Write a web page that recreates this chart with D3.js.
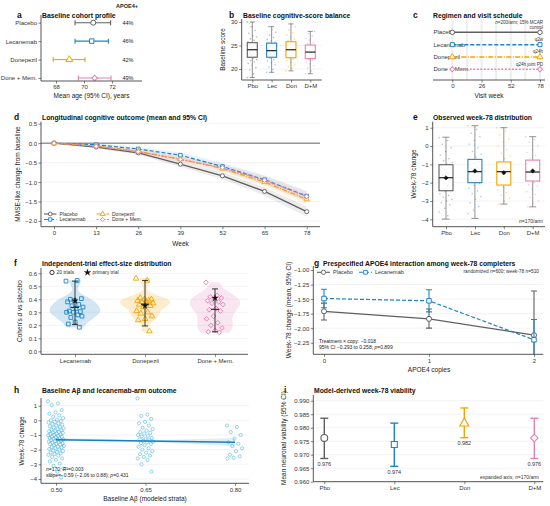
<!DOCTYPE html>
<html>
<head>
<meta charset="utf-8">
<script src="https://cdn.jsdelivr.net/npm/d3@7"></script>
<style>
body { margin: 0; background: #fff; }
svg { font-family: "Liberation Sans", Arial, sans-serif; }
</style>
</head>
<body>
<svg id="fig" width="550" height="506"></svg>
<script>
// ---- shared ----
let arms = ["Placebo", "Lecanemab", "Donepezil", "Done + Mem."]
let armShort = ["Pbo", "Lec", "Don", "D+M"]
let armColor = ["#5f5f5f", "#1f84c6", "#f5a300", "#e681b4"]
let armShape = ["circle", "square", "triangle", "diamond"]
let armDash = ["none", "4,2", "5,1.5,1,1.5", "2,1.5"]

// a: baseline cohort
let ageMean = [70.66, 70.55, 68.95, 70.76]
let ageLo = [69.36, 69.36, 67.8, 69.6]
let ageHi = [71.9, 71.74, 70.07, 71.93]
let apoePct = ["44%", "46%", "42%", "49%"]
let ageTicks = [68, 70, 72]

// b: baseline score boxes (whisker lo, q1, median, q3, whisker hi)
let scoreBox = [
    [18.2, 22.5, 24.1, 25.6, 30.0],
    [19.3, 22.5, 23.9, 25.5, 29.0],
    [19.6, 22.4, 24.1, 25.8, 29.6],
    [19.0, 22.2, 23.6, 25.1, 28.0]
]
let scorePts = [
    [18.2, 19.0, 19.8, 20.3, 20.8, 21.2, 21.5, 21.8, 22.0, 22.3, 22.5, 22.7, 23.0, 23.2, 23.4, 23.6, 23.8, 24.0, 24.1, 24.3, 24.5, 24.7, 24.9, 25.1, 25.3, 25.6, 25.8, 26.1, 26.4, 26.8, 27.1, 27.6, 28.2, 29.0, 30.0],
    [19.3, 19.9, 20.4, 20.9, 21.3, 21.7, 22.0, 22.3, 22.5, 22.7, 22.9, 23.1, 23.3, 23.5, 23.7, 23.9, 24.0, 24.2, 24.4, 24.6, 24.8, 25.0, 25.2, 25.5, 25.7, 26.0, 26.3, 26.7, 27.2, 27.8, 28.4, 29.0],
    [19.6, 20.1, 20.6, 21.0, 21.4, 21.8, 22.1, 22.4, 22.6, 22.9, 23.1, 23.4, 23.6, 23.8, 24.0, 24.1, 24.3, 24.5, 24.7, 25.0, 25.2, 25.5, 25.8, 26.1, 26.4, 26.8, 27.2, 27.7, 28.3, 29.0, 29.6],
    [19.0, 19.6, 20.2, 20.7, 21.1, 21.5, 21.8, 22.0, 22.2, 22.4, 22.7, 22.9, 23.1, 23.3, 23.5, 23.6, 23.8, 24.0, 24.2, 24.4, 24.6, 24.9, 25.1, 25.4, 25.7, 26.1, 26.5, 27.0, 27.5, 28.0]
]
let scoreTicks = [20, 25, 30]

// c: regimen schedule
let visitWeeks = [0, 13, 26, 39, 52, 65, 78]
let scheduleTicks = [0, 26, 52, 78]
let regimenNote = ["control", "q2w", "q24h", "q24h joint PD"]

// d: longitudinal means and CI half-widths
let weeks = [0, 13, 26, 39, 52, 65, 78]
let meanChange = [
    [0, -0.10, -0.25, -0.54, -0.84, -1.24, -1.76],
    [0, -0.04, -0.15, -0.31, -0.60, -0.94, -1.36],
    [0, -0.07, -0.21, -0.41, -0.65, -1.00, -1.44],
    [0, -0.08, -0.22, -0.42, -0.63, -0.95, -1.37]
]
let ciHalf = [0, 0.03, 0.05, 0.07, 0.09, 0.11, 0.13]
let changeTicks = [0.5, 0, -0.5, -1, -1.5, -2]

// e: week-78 distribution
let w78Box = [
    [-3.99, -2.44, -1.73, -1.02, 0.48],
    [-3.95, -2.00, -1.40, -0.73, 1.11],
    [-3.17, -2.13, -1.40, -0.87, 1.00],
    [-3.32, -1.91, -1.42, -0.77, 0.51]
]
let w78Mean = [-1.74, -1.36, -1.46, -1.36]
let w78Pts = [
    [0.45, 0.3, 0.1, -0.1, -0.3, -0.5, -0.7, -0.8, -0.9, -1.0, -1.1, -1.2, -1.3, -1.4, -1.5, -1.6, -1.7, -1.75, -1.8, -1.9, -2.0, -2.1, -2.2, -2.3, -2.4, -2.5, -2.6, -2.7, -2.8, -2.9, -3.0, -3.1, -3.2, -3.4, -3.6, -3.8, -4.0],
    [1.1, 0.9, 0.7, 0.5, 0.3, 0.1, -0.1, -0.3, -0.45, -0.6, -0.75, -0.85, -0.95, -1.05, -1.15, -1.25, -1.35, -1.4, -1.45, -1.55, -1.65, -1.75, -1.85, -1.95, -2.05, -2.15, -2.3, -2.45, -2.6, -2.75, -2.9, -3.1, -3.3, -3.5, -3.7, -3.95],
    [1.0, 0.8, 0.6, 0.4, 0.2, 0.0, -0.2, -0.4, -0.55, -0.7, -0.85, -0.95, -1.05, -1.15, -1.25, -1.35, -1.4, -1.45, -1.55, -1.65, -1.75, -1.85, -1.95, -2.05, -2.15, -2.25, -2.4, -2.55, -2.7, -2.85, -3.0, -3.17],
    [0.5, 0.35, 0.2, 0.0, -0.2, -0.35, -0.5, -0.65, -0.75, -0.85, -0.95, -1.05, -1.15, -1.25, -1.35, -1.4, -1.45, -1.55, -1.65, -1.75, -1.85, -1.92, -2.0, -2.1, -2.2, -2.35, -2.5, -2.65, -2.8, -3.0, -3.15, -3.32]
]
let w78Ticks = [1, 0, -1, -2, -3, -4]

// f: trial effect sizes
let trialArms = ["Lecanemab", "Donepezil", "Done + Mem."]
let trialD = [
    [0.54, 0.545, 0.40, 0.405, 0.39, 0.38, 0.36, 0.35, 0.34, 0.33, 0.31, 0.305, 0.30, 0.30, 0.28, 0.26, 0.27, 0.225, 0.21, 0.185],
    [0.56, 0.545, 0.41, 0.40, 0.40, 0.39, 0.39, 0.38, 0.37, 0.38, 0.36, 0.35, 0.34, 0.31, 0.30, 0.29, 0.27, 0.25, 0.24, 0.155],
    [0.53, 0.43, 0.42, 0.41, 0.40, 0.39, 0.38, 0.37, 0.36, 0.33, 0.32, 0.31, 0.27, 0.25, 0.22, 0.20, 0.18, 0.16, 0.15, 0.145]
]
let trialMid = [0.338, 0.362, 0.323]
let trialLo = [0.205, 0.195, 0.15]
let trialHi = [0.54, 0.545, 0.48]
let primaryD = [0.389, 0.35, 0.41]
let dTicks = [0, 0.1, 0.2, 0.3, 0.4, 0.5, 0.6]

// g: APOE4 interaction
let copies = [0, 1, 2]
let apoeMean = [[-1.71, -1.84, -2.12], [-1.49, -1.53, -2.20]]
let apoeLo = [[-1.86, -2.00, -2.90], [-1.65, -1.72, -2.60]]
let apoeHi = [[-1.57, -1.67, -1.36], [-1.33, -1.34, -1.85]]
let apoeTicks = [-1, -1.25, -1.5, -1.75, -2, -2.25]

// h: baseline amyloid strata
let strata = [0.50, 0.65, 0.80]
let strataPts = [
    [1.3, 1.15, 1.05, 0.7, 0.55, 0.45, 0.35, 0.25, 0.15, 0.05, 0.0, -0.05, -0.1, -0.15, -0.2, -0.25, -0.3, -0.35, -0.4, -0.45, -0.5, -0.55, -0.6, -0.62, -0.68, -0.72, -0.75, -0.8, -0.82, -0.85, -0.9, -0.92, -0.95, -1.0, -1.02, -1.05, -1.1, -1.12, -1.15, -1.2, -1.22, -1.25, -1.3, -1.32, -1.35, -1.4, -1.42, -1.45, -1.5, -1.52, -1.55, -1.6, -1.62, -1.65, -1.7, -1.75, -1.8, -1.82, -1.85, -1.9, -1.95, -2.0, -2.05, -2.1, -2.15, -2.2, -2.25, -2.3, -2.35, -2.4, -2.5, -2.6, -2.7, -2.8, -2.95, -3.1, -3.3, -3.5, -3.7, -3.9],
    [1.5, 0.4, 0.3, 0.1, -0.1, -0.2, -0.35, -0.5, -0.6, -0.7, -0.8, -0.85, -0.9, -1.0, -1.05, -1.1, -1.2, -1.25, -1.3, -1.35, -1.4, -1.45, -1.5, -1.55, -1.6, -1.7, -1.8, -1.9, -2.0, -2.1, -2.2, -2.3, -2.4, -2.5, -2.6, -2.7, -3.0, -3.5],
    [-0.35, -0.45, -0.8, -1.0, -1.25, -1.5, -1.6, -1.75, -1.9, -2.1, -2.35, -2.45, -2.55, -2.6]
]
let fitX = [0.50, 0.80]
let fitY = [-1.32, -1.50]
let bandX = [0.50, 0.575, 0.65, 0.725, 0.80]
let bandLo = [-1.45, -1.43, -1.48, -1.60, -1.78]
let bandHi = [-1.20, -1.26, -1.33, -1.28, -1.20]
let abTicks = [0.50, 0.65, 0.80]
let hTicks = [1, 0, -1, -2, -3, -4]

// i: viability
let viaMean = [0.9762, 0.9738, 0.9816, 0.9762]
let viaLo = [0.9686, 0.9657, 0.9763, 0.9686]
let viaHi = [0.9835, 0.9817, 0.9873, 0.9835]
let viaTicks = [0.96, 0.965, 0.97, 0.975, 0.98, 0.985, 0.99]

// ---- helpers ----
let svg = d3.select('#fig')
let font = '"Liberation Sans", Arial, sans-serif'

let anchored = (v0, p0, v1, p1, e0, e1) => {
    let s = d3.scaleLinear().domain([v0, v1]).range([p0, p1])
    return d3.scaleLinear().domain([s.invert(e0), s.invert(e1)]).range([e0, e1])
}

let jit = (i, w) => (((i * 0.618034) % 1) - 0.5) * w

let line = (x1, y1, x2, y2, color, w, dash) => svg.append('line')
    .attr('x1', x1).attr('y1', y1).attr('x2', x2).attr('y2', y2)
    .attr('stroke', color).attr('stroke-width', w)
    .attr('stroke-dasharray', dash && dash !== 'none' ? dash : null)

let txt = (x, y, s, o = {}) => {
    let t = svg.append('text').attr('x', x).attr('y', y).text(s)
        .style('font-size', (o.size || 6) + 'px')
        .attr('fill', o.color || '#222')
        .attr('text-anchor', o.anchor || 'start')
    if (o.bold) t.style('font-weight', 'bold')
    if (o.rotate) t.attr('transform', `rotate(-90,${x},${y})`)
    return t
}

let rich = (x, y, parts, o) => {
    let t = txt(x, y, '', o)
    parts.forEach(([s, it]) => t.append('tspan').text(s).style('font-style', it ? 'italic' : 'normal'))
    return t
}

let symbols = { circle: d3.symbolCircle, square: d3.symbolSquare, triangle: d3.symbolTriangle, diamond: d3.symbolSquare, star: d3.symbolStar }
let marker = (shape, x, y, size, stroke, fill, sw) => svg.append('path')
    .attr('d', d3.symbol(symbols[shape], shape === 'diamond' ? size * 0.8 : size)())
    .attr('transform', `translate(${x},${y})` + (shape === 'diamond' ? ' rotate(45)' : ''))
    .attr('fill', fill).attr('stroke', stroke).attr('stroke-width', sw)

let tidy = g => {
    g.select('.domain').remove()
    g.selectAll('.tick line').attr('stroke', '#333').attr('stroke-width', 0.6)
    g.selectAll('.tick text').attr('fill', '#333').style('font-size', '6px').style('font-family', font)
}
let axisL = (scale, x, ticks, fmt) => svg.append('g').attr('transform', `translate(${x},0)`)
    .call(d3.axisLeft(scale).tickValues(ticks).tickFormat(fmt).tickSize(2.5).tickPadding(1.5)).call(tidy)
let axisB = (scale, y, ticks, fmt) => svg.append('g').attr('transform', `translate(0,${y})`)
    .call(d3.axisBottom(scale).tickValues(ticks).tickFormat(fmt).tickSize(2.5).tickPadding(1.5)).call(tidy)

let frame = (x0, x1, y0, y1, left = true) => {
    if (left) line(x0, y0, x0, y1, '#444', 0.9)
    line(x0, y1, x1, y1, '#444', 0.9)
}
let hgrid = (scale, ticks, x0, x1) => ticks.forEach(v => line(x0, scale(v), x1, scale(v), '#ebebeb', 0.6))

let errV = (x, lo, hi, cap, color, w) => {
    line(x, lo, x, hi, color, w)
    line(x - cap, lo, x + cap, lo, color, w)
    line(x - cap, hi, x + cap, hi, color, w)
}

let title = (letterX, x, y, letter, s) => {
    txt(letterX, y, letter, { size: 8.5, bold: true, color: '#111' })
    txt(x, y, s, { size: 6.8, bold: true, color: '#111' })
}

let boxplot = (xs, ys, cats, boxes, pts, halfW, capW, ptR) => {
    cats.forEach((c, i) => {
        let cx = xs(c), col = armColor[i], b = boxes[i]
        pts[i].forEach((v, j) => svg.append('circle').attr('cx', cx + jit(j, halfW * 2)).attr('cy', ys(v))
            .attr('r', ptR).attr('fill', col).attr('opacity', 0.45))
        line(cx, ys(b[4]), cx, ys(b[3]), '#777', 0.8)
        line(cx, ys(b[1]), cx, ys(b[0]), '#777', 0.8)
        line(cx - capW, ys(b[4]), cx + capW, ys(b[4]), '#777', 0.8)
        line(cx - capW, ys(b[0]), cx + capW, ys(b[0]), '#777', 0.8)
        svg.append('rect').attr('x', cx - halfW).attr('y', ys(b[3]))
            .attr('width', halfW * 2).attr('height', ys(b[1]) - ys(b[3]))
            .attr('fill', '#fff').attr('fill-opacity', 0.75).attr('stroke', col).attr('stroke-width', 1.1)
        line(cx - halfW, ys(b[2]), cx + halfW, ys(b[2]), '#222', 1.2)
    })
}

// ---- a ----
let xa = anchored(68, 56, 72, 112, 41, 142)
let ya = d3.scalePoint().domain(arms).range([22.7, 78])
title(17, 42, 18, 'a', 'Baseline cohort profile')
txt(127, 8, 'APOE4+', { size: 5.5, bold: true, anchor: 'middle' })
arms.forEach((a, i) => {
    let y = ya(a), c = armColor[i]
    line(xa(ageLo[i]), y, xa(ageHi[i]), y, c, 1.1)
    line(xa(ageLo[i]), y - 2.5, xa(ageLo[i]), y + 2.5, c, 1.1)
    line(xa(ageHi[i]), y - 2.5, xa(ageHi[i]), y + 2.5, c, 1.1)
    marker(armShape[i], xa(ageMean[i]), y, 20, c, '#fff', 1)
    txt(128, y + 2, apoePct[i], { size: 5.5, anchor: 'middle' })
})
frame(41, 142, 15, 81)
axisL(ya, 41, arms, null)
axisB(xa, 81, ageTicks, d3.format('d'))
txt(91.5, 98, 'Mean age (95% CI), years', { size: 6.5, anchor: 'middle' })

// ---- b ----
let yb = anchored(30, 22, 20, 69, 80, 19)
let xb = d3.scalePoint().domain(armShort).range([252.3, 310.3])
title(229, 243, 18, 'b', 'Baseline cognitive-score balance')
hgrid(yb, scoreTicks, 241.7, 321.7)
boxplot(xb, yb, armShort, scoreBox, scorePts, 5, 2.5, 0.8)
frame(241.7, 321.7, 19, 80)
axisL(yb, 241.7, scoreTicks, d3.format('d'))
axisB(xb, 80, armShort, null)
txt(225, 49.5, 'Baseline score', { size: 6.5, anchor: 'middle', rotate: true })

// ---- c ----
let xc = anchored(0, 452.3, 78, 540, 433, 545)
let yc = d3.scalePoint().domain(arms).range([32.3, 69.3])
title(413, 433, 18, 'c', 'Regimen and visit schedule')
visitWeeks.forEach(w => line(xc(w), 19, xc(w), 80, '#eeeeee', 2))
rich(543, 24.3, [['n', true], ['=200/arm; 15% MCAR', false]], { size: 4.5, anchor: 'end', color: '#333' })
arms.forEach((a, i) => {
    let y = yc(a), c = armColor[i]
    txt(433.5, y + 2, a, { size: 6, color: '#333' })
    line(xc(0), y, xc(78), y, c, 1.5, armDash[i])
    marker(armShape[i], xc(0), y, 16, c, '#fff', 1)
    marker(armShape[i], xc(78), y, 16, c, '#fff', 1)
    txt(543, y - (i === 0 ? 2.9 : 3.5), regimenNote[i], { size: 4.5, anchor: 'end', color: '#333' })
})
frame(433, 545, 19, 80, false)
axisB(xc, 80, scheduleTicks, d3.format('d'))
txt(489, 98, 'Visit week', { size: 6.5, anchor: 'middle' })

// ---- d ----
let xd = anchored(0, 54, 78, 306.7, 41, 320)
let yd = anchored(0.5, 123.7, -2, 221, 226.7, 121.7)
title(14, 42, 119.5, 'd', 'Longitudinal cognitive outcome (mean and 95% CI)')
hgrid(yd, changeTicks, 41, 320)
line(41, yd(0), 320, yd(0), '#666', 1)
meanChange.forEach((m, i) => {
    let band = d3.area().x((d, k) => xd(weeks[k])).y0((d, k) => yd(d - ciHalf[k])).y1((d, k) => yd(d + ciHalf[k]))
    svg.append('path').attr('d', band(m)).attr('fill', armColor[i]).attr('opacity', 0.11)
})
meanChange.forEach((m, i) => {
    let ln = d3.line().x((d, k) => xd(weeks[k])).y(d => yd(d))
    svg.append('path').attr('d', ln(m)).attr('fill', 'none').attr('stroke', armColor[i])
        .attr('stroke-width', 1.2).attr('stroke-dasharray', armDash[i] === 'none' ? null : armDash[i])
    m.forEach((v, k) => marker(armShape[i], xd(weeks[k]), yd(v), 13, armColor[i], '#fff', 0.9))
})
// legend: two columns, Placebo/Lecanemab then Donepezil/Done + Mem.
arms.forEach((a, i) => {
    let lx = i < 2 ? 44 : 96.5
    let ly = i % 2 === 0 ? 214 : 219.5
    line(lx, ly, lx + 12.5, ly, armColor[i], 1.1, armDash[i])
    marker(armShape[i], lx + 6.2, ly, 11, armColor[i], '#fff', 0.9)
    txt(lx + 15.5, ly + 1.8, a, { size: 5, color: '#333' })
})
frame(41, 320, 121.7, 226.7)
axisL(yd, 41, changeTicks, d3.format('.1f'))
axisB(xd, 226.7, weeks, d3.format('d'))
txt(180.5, 245.5, 'Week', { size: 6.5, anchor: 'middle' })
txt(20, 174, 'MMSE-like change from baseline', { size: 6.5, anchor: 'middle', rotate: true })

// ---- e ----
let ye = anchored(1, 127.7, -4, 219.3, 226.7, 121.7)
let xe = d3.scalePoint().domain(armShort).range([446, 532.7])
title(413, 433, 119.5, 'e', 'Observed week-78 distribution')
hgrid(ye, w78Ticks, 432.7, 545)
boxplot(xe, ye, armShort, w78Box, w78Pts, 7, 3.5, 0.75)
armShort.forEach((c, i) => marker('diamond', xe(c), ye(w78Mean[i]), 12, '#111', '#111', 0.5))
rich(543, 222.5, [['n', true], ['=170/arm', false]], { size: 5, anchor: 'end', color: '#333' })
frame(432.7, 545, 121.7, 226.7)
axisL(ye, 432.7, w78Ticks, d3.format('d'))
axisB(xe, 226.7, armShort, null)
txt(416, 174, 'Week-78 change', { size: 6.5, anchor: 'middle', rotate: true })

// ---- f ----
let yf = anchored(0.6, 273.3, 0, 351.3, 354.3, 268)
let xf = d3.scalePoint().domain(trialArms).range([75, 215])
title(14, 42, 265.5, 'f', 'Independent-trial effect-size distribution')
hgrid(yf, dTicks, 41, 248)
trialArms.forEach((a, i) => {
    let vals = trialD[i], col = armColor[i + 1], cx = xf(a)
    let sorted = vals.slice().sort(d3.ascending)
    let iqr = d3.quantile(sorted, 0.75) - d3.quantile(sorted, 0.25)
    let bw = 0.9 * Math.min(d3.deviation(vals), iqr / 1.34) * Math.pow(vals.length, -0.2)
    let lo = d3.min(vals), hi = d3.max(vals)
    let grid = d3.range(0, 61).map(k => lo + (hi - lo) * k / 60)
    let dens = grid.map(t => [t, d3.mean(vals, v => Math.exp(-0.5 * ((t - v) / bw) ** 2))])
    let w = d3.scaleLinear().domain([0, d3.max(dens, d => d[1])]).range([0, 25])
    let vio = d3.area().curve(d3.curveBasis).y(d => yf(d[0])).x0(d => cx - w(d[1])).x1(d => cx + w(d[1]))
    svg.append('path').attr('d', vio(dens)).attr('fill', col).attr('fill-opacity', 0.2)
        .attr('stroke', col).attr('stroke-opacity', 0.15).attr('stroke-width', 0.6)
    vals.forEach((v, j) => marker(armShape[i + 1], cx + jit(j, 18), yf(v), 14, col, 'none', 0.9))
    errV(cx, yf(trialLo[i]), yf(trialHi[i]), 3, '#222', 0.9)
    line(cx - 4, yf(trialMid[i]), cx + 4, yf(trialMid[i]), '#222', 1.1)
    marker('star', cx, yf(primaryD[i]), 12, '#111', '#111', 0.3)
})
marker('circle', 52, 272.5, 14, '#222', 'none', 0.9)
txt(56.5, 274.3, '20 trials', { size: 5, color: '#333' })
marker('star', 87.5, 272.5, 14, '#111', '#111', 0.3)
txt(92.5, 274.3, 'primary trial', { size: 5, color: '#333' })
frame(41, 248, 268, 354.3)
axisL(yf, 41, dTicks, d3.format('.1f'))
axisB(xf, 354.3, trialArms, null)
rich(22, 311, [["Cohen's ", false], ['d', true], [' vs placebo', false]], { size: 6.5, anchor: 'middle', rotate: true })

// ---- g ----
let xg = anchored(0, 324, 2, 534, 313.3, 543.3)
let yg = anchored(-1, 270, -2.25, 342.7, 354.3, 266)
title(314, 323, 265.5, 'g', 'Prespecified APOE4 interaction among week-78 completers')
hgrid(yg, apoeTicks, 313.3, 543.3)
svg.append('clipPath').attr('id', 'clipg').append('rect')
    .attr('x', 313.3).attr('y', 266).attr('width', 230).attr('height', 88.3)
let gArms = [0, 1]
gArms.forEach(a => {
    let col = armColor[a], gl = svg.append('g').attr('clip-path', 'url(#clipg)')
    copies.forEach((c, k) => {
        let x = xg(c)
        gl.append('line').attr('x1', x).attr('x2', x).attr('y1', yg(apoeLo[a][k])).attr('y2', yg(apoeHi[a][k]))
            .attr('stroke', col).attr('stroke-width', 1.1)
        ;[apoeLo[a][k], apoeHi[a][k]].forEach(v => gl.append('line').attr('x1', x - 3).attr('x2', x + 3)
            .attr('y1', yg(v)).attr('y2', yg(v)).attr('stroke', col).attr('stroke-width', 1.1))
    })
    let ln = d3.line().x((d, k) => xg(copies[k])).y(d => yg(d))
    svg.append('path').attr('d', ln(apoeMean[a])).attr('fill', 'none').attr('stroke', col)
        .attr('stroke-width', 1.2).attr('stroke-dasharray', armDash[a] === 'none' ? null : armDash[a])
    apoeMean[a].forEach((v, k) => marker(armShape[a], xg(copies[k]), yg(v), 20, col, '#fff', 1))
})
line(317, 272.3, 330, 272.3, armColor[0], 1.1)
marker('circle', 323.5, 272.3, 14, armColor[0], '#fff', 0.9)
txt(333, 274.2, 'Placebo', { size: 5.5, color: '#333' })
line(359, 272.3, 372, 272.3, armColor[1], 1.1, armDash[1])
marker('square', 365.5, 272.3, 14, armColor[1], '#fff', 0.9)
txt(375, 274.2, 'Lecanemab', { size: 5.5, color: '#333' })
rich(539, 272.5, [['randomized ', false], ['n', true], ['=600; week-78 ', false], ['n', true], ['=510', false]], { size: 4.8, anchor: 'end', color: '#333' })
txt(319, 342.7, 'Treatment × copy: −0.018', { size: 5, color: '#222' })
rich(319, 349.3, [['95% CI −0.293 to 0.258; ', false], ['p', true], ['=0.899', false]], { size: 5, color: '#222' })
frame(313.3, 543.3, 266, 354.3)
axisL(yg, 313.3, apoeTicks, d3.format('.2f'))
axisB(xg, 354.3, copies, d3.format('d'))
txt(429, 372, 'APOE4 copies', { size: 6.5, anchor: 'middle' })
txt(291, 310, 'Week-78 change (mean, 95% CI)', { size: 6.5, anchor: 'middle', rotate: true })

// ---- h ----
let xh = anchored(0.5, 56, 0.8, 235, 41, 249)
let yh = anchored(1, 405.7, -4, 479, 483.3, 398)
title(14, 42, 393, 'h', 'Baseline Aβ and lecanemab-arm outcome')
hgrid(yh, hTicks, 41, 249)
strata.forEach((s, i) => strataPts[i].forEach((v, j) => svg.append('circle')
    .attr('cx', xh(s) + jit(j, 16)).attr('cy', yh(v)).attr('r', 1.6)
    .attr('fill', 'none').attr('stroke', '#3fb0e0').attr('stroke-width', 0.55)))
let bandH = d3.area().x((d, k) => xh(bandX[k])).y0((d, k) => yh(bandLo[k])).y1(d => yh(d)).curve(d3.curveMonotoneX)
svg.append('path').attr('d', bandH(bandHi)).attr('fill', '#1f84c6').attr('opacity', 0.15)
line(xh(fitX[0]), yh(fitY[0]), xh(fitX[1]), yh(fitY[1]), '#1a7fc1', 1.5)
rich(46, 470.5, [['n', true], ['=170; ', false], ['R', true], ['²=0.003', false]], { size: 5, color: '#222' })
rich(46, 477, [['slope=−0.59 (−2.06 to 0.88); ', false], ['p', true], ['=0.431', false]], { size: 5, color: '#222' })
frame(41, 249, 398, 483.3)
axisL(yh, 41, hTicks, d3.format('d'))
axisB(xh, 483.3, abTicks, d3.format('.2f'))
txt(145, 500.5, 'Baseline Aβ (modeled strata)', { size: 6.5, anchor: 'middle' })
txt(24, 441, 'Week-78 change', { size: 6.5, anchor: 'middle', rotate: true })

// ---- i ----
let yi = anchored(0.99, 400.7, 0.96, 481.7, 481.7, 395)
let xi = d3.scalePoint().domain(armShort).range([324.3, 534.3])
title(284, 314, 393, 'i', 'Model-derived week-78 viability')
hgrid(yi, viaTicks, 313.3, 543.3)
armShort.forEach((c, i) => {
    let x = xi(c), col = armColor[i]
    errV(x, yi(viaLo[i]), yi(viaHi[i]), 4, col, 1.4)
    marker(armShape[i], x, yi(viaMean[i]), 36, col, '#fff', 1.1)
    txt(x, yi(viaLo[i]) + 7.5, d3.format('.3f')(viaMean[i]), { size: 5.5, anchor: 'middle', color: '#333' })
})
rich(539, 478.5, [['expanded axis; ', false], ['n', true], ['=170/arm', false]], { size: 5, anchor: 'end', color: '#333' })
frame(313.3, 543.3, 395, 481.7)
axisL(yi, 313.3, viaTicks, d3.format('.3f'))
axisB(xi, 481.7, armShort, null)
txt(286, 438, 'Mean neuronal viability (95% CI)', { size: 6.5, anchor: 'middle', rotate: true })
</script>
</body>
</html>
